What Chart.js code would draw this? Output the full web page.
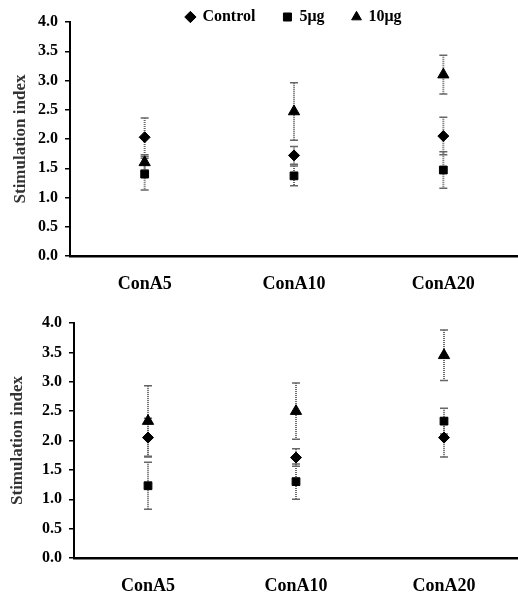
<!DOCTYPE html>
<html>
<head>
<meta charset="utf-8">
<script src="https://cdn.jsdelivr.net/npm/chart.js@4.4.0/dist/chart.umd.min.js"></script>
<style>
    body { margin: 0; background: #fff; }
    .panel { position: absolute; left: 0; width: 518px; height: 300px; }
</style>
</head>
<body>
<div class="panel" style="top:0"><canvas id="chartTop"></canvas></div>
<div class="panel" style="top:300px"><canvas id="chartBottom"></canvas></div>
<script>
// ============================================
// DATA
// ============================================

const categories = ['ConA5', 'ConA10', 'ConA20'];
const seriesNames = ['Control', '5\u03bcg', '10\u03bcg'];

// upper panel
const topControl = [2.03, 1.72, 2.05];
const topControlErr = [0.33, 0.15, 0.32];
const top5ug = [1.40, 1.37, 1.47];
const top5ugErr = [0.27, 0.17, 0.31];
const top10ug = [1.60, 2.47, 3.10];
const top10ugErr = [0.13, 0.49, 0.33];

// lower panel
const bottomControl = [2.05, 1.71, 2.05];
const bottomControlErr = [0.33, 0.15, 0.33];
const bottom5ug = [1.23, 1.30, 2.33];
const bottom5ugErr = [0.40, 0.30, 0.22];
const bottom10ug = [2.33, 2.50, 3.45];
const bottom10ugErr = [0.60, 0.48, 0.43];

const FONT = "'Liberation Serif', 'Times New Roman', serif";

// ============================================
// PLUGINS
// ============================================

const errorBarPlugin = {
    id: 'errorBars',
    beforeDatasetsDraw(chart) {
        const ctx = chart.ctx;
        const yScale = chart.scales.y;
        ctx.save();
        ctx.strokeStyle = '#666';
        chart.data.datasets.forEach((ds, i) => {
            const meta = chart.getDatasetMeta(i);
            meta.data.forEach((pt, j) => {
                const v = ds.data[j];
                const e = ds.errors[j];
                const yHi = yScale.getPixelForValue(v + e);
                const yLo = yScale.getPixelForValue(v - e);
                const x = pt.x;
                ctx.lineWidth = 2;
                ctx.setLineDash([1, 1]);
                ctx.beginPath();
                ctx.moveTo(x, yHi);
                ctx.lineTo(x, yLo);
                ctx.stroke();
                ctx.setLineDash([]);
                ctx.lineWidth = 1.5;
                ctx.beginPath();
                ctx.moveTo(x - 4, yHi);
                ctx.lineTo(x + 4, yHi);
                ctx.moveTo(x - 4, yLo);
                ctx.lineTo(x + 4, yLo);
                ctx.stroke();
            });
        });
        ctx.restore();
    }
};

// legend sits partly over the top of the plot, like the original figure
const legendShiftPlugin = {
    id: 'legendShift',
    afterLayout(chart) {
        if (!chart.legend || !chart.options.plugins.legend.display) return;
        chart.legend.top = -19;
        chart.legend.bottom = 30;
    }
};

// ============================================
// CHART BUILDER
// ============================================

function makeDataset(label, data, errors, style, radius) {
    return {
        label: label,
        data: data,
        errors: errors,
        showLine: false,
        pointStyle: style,
        pointRadius: radius,
        pointHoverRadius: radius,
        backgroundColor: '#000',
        borderColor: '#000',
        borderWidth: 1
    };
}

function buildChart(canvasId, series, opts) {
    const ctx = document.getElementById(canvasId).getContext('2d');
    return new Chart(ctx, {
        type: 'line',
        data: {
            labels: categories,
            datasets: [
                makeDataset(seriesNames[0], series[0], series[1], 'rectRot', 5.5),
                makeDataset(seriesNames[1], series[2], series[3], 'rect', 5.5),
                makeDataset(seriesNames[2], series[4], series[5], 'triangle', 6.5)
            ]
        },
        options: {
            responsive: true,
            maintainAspectRatio: false,
            animation: false,
            layout: {
                autoPadding: false,
                padding: { top: opts.padTop, left: 0, right: 0, bottom: 0 }
            },
            plugins: {
                tooltip: { enabled: false },
                legend: {
                    display: opts.legend,
                    position: 'top',
                    fullSize: false,
                    maxHeight: 14,
                    labels: {
                        usePointStyle: true,
                        boxWidth: 8,
                        boxHeight: 8,
                        padding: 28,
                        color: '#000',
                        font: { family: FONT, size: 16, weight: 'bold' }
                    }
                }
            },
            scales: {
                x: {
                    offset: true,
                    grid: { display: false },
                    border: { display: true, color: '#000', width: 2.5 },
                    ticks: {
                        color: '#000',
                        padding: 10,
                        font: { family: FONT, size: 18, weight: 'bold' }
                    },
                    afterFit: (scale) => {
                        scale.height = opts.xHeight;
                        scale.paddingLeft = 0;
                        scale.paddingRight = 0;
                    }
                },
                y: {
                    min: 0,
                    max: 4,
                    ticks: {
                        stepSize: 0.5,
                        color: '#000',
                        padding: 7,
                        font: { family: FONT, size: 16, weight: 'bold' },
                        callback: (v) => v.toFixed(1)
                    },
                    grid: {
                        drawOnChartArea: false,
                        drawTicks: true,
                        tickLength: 5,
                        color: '#000',
                        lineWidth: 1.5
                    },
                    border: { display: true, color: '#000', width: 2 },
                    title: {
                        display: true,
                        text: 'Stimulation index',
                        color: '#333',
                        padding: { top: opts.titlePad, bottom: 0 },
                        font: { family: FONT, size: 17, weight: 'bold' }
                    },
                    afterFit: (scale) => { scale.width = opts.yWidth; }
                }
            }
        },
        plugins: [errorBarPlugin, legendShiftPlugin]
    });
}

buildChart('chartTop',
    [topControl, topControlErr, top5ug, top5ugErr, top10ug, top10ugErr],
    { legend: true, padTop: 8, xHeight: 44, yWidth: 70, titlePad: 10 });

buildChart('chartBottom',
    [bottomControl, bottomControlErr, bottom5ug, bottom5ugErr, bottom10ug, bottom10ugErr],
    { legend: false, padTop: 23, xHeight: 42, yWidth: 74, titlePad: 7 });
</script>
</body>
</html>
